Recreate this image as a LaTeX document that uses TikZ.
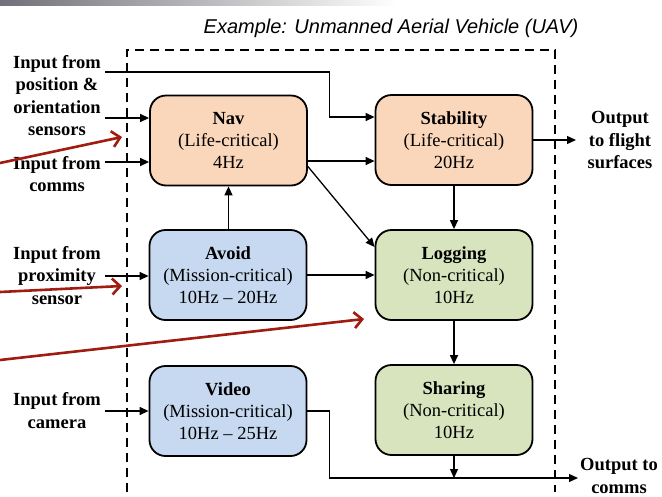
\documentclass[tikz,border=0pt]{standalone}
\usepackage{fontspec}
\setmainfont{Liberation Serif}
\newfontfamily\titlefont{Liberation Sans}
\usetikzlibrary{arrows.meta}
\definecolor{peach}{RGB}{250,215,186}
\definecolor{lblue}{RGB}{198,217,240}
\definecolor{lgreen}{RGB}{215,228,189}
\definecolor{redarr}{RGB}{160,28,16}
\definecolor{bargray}{RGB}{112,112,120}
\begin{document}
\begin{tikzpicture}[x=1pt,y=-1pt,
  box/.style={draw, line width=1.8pt, rounded corners=16pt, minimum width=157pt, minimum height=90pt,
    inner sep=0pt, align=center, font=\fontsize{18.5}{22}\selectfont},
  lbl/.style={align=center, inner sep=0pt, font=\bfseries\fontsize{18.5}{22.5}\selectfont},
  arr/.style={line width=1.3pt, -{Triangle[length=9pt,width=8pt]}},
  ln/.style={line width=1.3pt},
  dashline/.style={line width=1.3pt, dash pattern=on 9pt off 6pt},
  redarrow/.style={draw=redarr, line width=2.6pt, line cap=round, -{Straight Barb[length=8pt,width=16pt]}}
]
\useasboundingbox (0,0) rectangle (662,496);
\shade[left color=bargray, right color=white] (0,0) rectangle (397,5);

\node[font=\titlefont\itshape\fontsize{20}{24}\selectfont] (title) at (391,28) {Example: Unmanned Aerial Vehicle (UAV)};

\draw[dashline] (127,492) -- (127,50) -- (555,50) -- (555,492);

% boxes
\node[box, fill=peach]  (nav)   at (228.5,140.5) {\textbf{Nav}\\(Life-critical)\\4Hz};
\node[box, fill=peach]  (stab)  at (454,140) {\textbf{Stability}\\(Life-critical)\\20Hz};
\node[box, fill=lblue]  (avoid) at (228,275) {\textbf{Avoid}\\(Mission-critical)\\10Hz -- 20Hz};
\node[box, fill=lgreen] (log)   at (454,275) {\textbf{Logging}\\(Non-critical)\\10Hz};
\node[box, fill=lblue]  (video) at (228,411) {\textbf{Video}\\(Mission-critical)\\10Hz -- 25Hz};
\node[box, fill=lgreen] (share) at (454,410) {\textbf{Sharing}\\(Non-critical)\\10Hz};

% side labels
\node[lbl] (lpos)   at (57,95.5) {Input from\\position \&\\orientation\\sensors};
\node[lbl] (lcomms) at (57,174)  {Input from\\comms};
\node[lbl] (lprox)  at (57,275.5) {Input from\\proximity\\sensor};
\node[lbl] (lcam)   at (57,410.5) {Input from\\camera};
\node[lbl] (lflight) at (620,140) {Output\\to flight\\surfaces};
\node[lbl] (lout)   at (619,476) {Output to\\comms};

% connector end points
\coordinate (inPos)  at (105,72);
\coordinate (inNav1) at (105,118);
\coordinate (inNav2) at (105,162);
\coordinate (inProx) at (105,276);
\coordinate (inCam)  at (105,411);
\coordinate (outFl)  at (576,140);
\coordinate (outCm)  at (578,478);

% connectors
\draw[arr] (inPos) -| ([xshift=-45pt,yshift=23pt]stab.west) -- ([yshift=23pt]stab.west);
\draw[arr] (inNav1) -- (inNav1 -| nav.west);
\draw[arr] (inNav2) -- (inNav2 -| nav.west);
\draw[arr] ([yshift=-20.5pt]nav.east) -- ([yshift=-20.5pt]nav.east -| stab.west);
\draw[arr] ([yshift=-26pt]nav.east) -- ([yshift=28pt]log.west);
\draw[arr] (stab.south) -- (log.north);
\draw[arr] (stab.east) -- (outFl);
\draw[arr] (avoid.north -| nav.south) -- (nav.south);
\draw[arr] (avoid.east) -- (log.west);
\draw[arr] (inProx) -- (inProx -| avoid.west);
\draw[arr] (log.south) -- (share.north);
\draw[arr] (inCam) -- (inCam -| video.west);
\draw[arr] (video.east) -- ++(22,0) |- (outCm);
\draw[arr] (share.south) -- (share.south |- outCm);

% red arrows
\coordinate (r1s) at (0,163);
\coordinate (r1e) at (122,137);
\coordinate (r2s) at (0,292);
\coordinate (r2e) at (122,286);
\coordinate (r3s) at (0,360);
\coordinate (r3e) at (364,319);
\draw[redarrow] (r1s) -- (r1e);
\draw[redarrow] (r2s) -- (r2e);
\draw[redarrow] (r3s) -- (r3e);
\end{tikzpicture}
\end{document}
